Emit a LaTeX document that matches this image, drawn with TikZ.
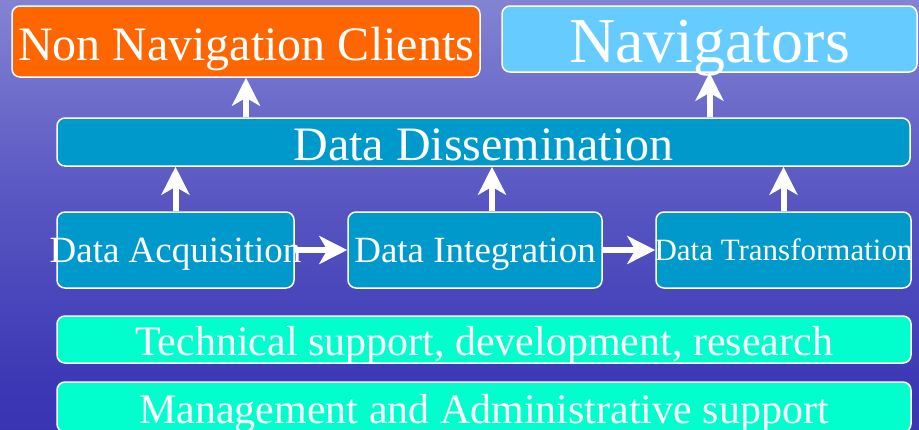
\documentclass[tikz,border=0pt]{standalone}
\usepackage{fontspec}
\setmainfont{Liberation Serif}
\usetikzlibrary{arrows.meta,calc}

\definecolor{clientorange}{RGB}{255,102,0}
\definecolor{navblue}{RGB}{102,204,255}
\definecolor{stageblue}{RGB}{0,153,204}
\definecolor{supportgreen}{RGB}{0,255,204}
\definecolor{bgtop}{RGB}{210,210,238}
\definecolor{bghigh}{RGB}{135,135,212}
\definecolor{bgmid}{RGB}{90,88,195}
\definecolor{bglow}{RGB}{60,55,180}
\definecolor{bgbot}{RGB}{45,40,168}
\pgfdeclareverticalshading{skyfade}{100bp}{color(0bp)=(bgbot); color(30bp)=(bglow); color(53bp)=(bgmid); color(77bp)=(bghigh); color(100bp)=(bgtop)}

\begin{document}
\begin{tikzpicture}[x=1pt, y=-1pt,
  box/.style={draw=white, line width=1.5pt, rounded corners=8pt, inner sep=0pt, text=white, text depth=0pt},
  stage/.style={box, fill=stageblue, minimum height=76pt, font=\fontsize{37}{40}\selectfont, text height=25.5pt},
  support/.style={box, fill=supportgreen, minimum width=854pt, font=\fontsize{42}{44}\selectfont},
  flow/.style={draw=white, line width=6pt, -{Stealth[length=28pt,width=28pt,inset=8pt]}}]
  % background
  \shade[shading=skyfade] (0,0) rectangle (919,429);
  \useasboundingbox (0,0) rectangle (919,429);

  % top row
  \node[box, fill=clientorange, minimum width=468pt, minimum height=71pt, font=\fontsize{48}{50}\selectfont, text height=37pt] (clients) at (246,41.5) {Non Navigation Clients};
  \node[box, fill=navblue, minimum width=415pt, minimum height=66pt, font=\fontsize{64}{66}\selectfont, text height=46pt] (navigators) at (709.5,39) {Navigators};
  \node[box, fill=stageblue, minimum width=853pt, minimum height=48pt, font=\fontsize{48}{50}\selectfont, text height=37pt] (dissem) at (483.5,142) {Data Dissemination};

  % stages
  \node[stage, minimum width=237pt] (acquis) at (175.5,250) {\makebox[0pt]{Data Acquisition}};
  \node[stage, minimum width=254pt] (integ) at (475,250) {\makebox[0pt]{Data Integration}};
  \node[stage, minimum width=255pt, font=\fontsize{31}{34}\selectfont, text height=21.5pt] (transf) at (783.5,250) {\makebox[0pt]{Data Transformation}};

  % support
  \node[support, minimum height=47pt, text height=31.8pt] (techsup) at (484,339.5) {Technical support, development, research};
  \node[support, minimum height=50pt, text height=33pt] (mgmt) at (484,407) {Management and Administrative support};

  \draw[flow] (acquis.east) -- (integ.west);
  \draw[flow] (integ.east) -- (transf.west);
  \draw[flow] (acquis.north) -- (acquis.north |- dissem.south);
  \draw[flow] ([xshift=17pt]integ.north) -- ([xshift=17pt]integ.north |- dissem.south);
  \draw[flow] (transf.north) -- (transf.north |- dissem.south);
  \draw[flow] (dissem.north -| clients.south) -- (clients.south);
  \draw[flow] (dissem.north -| navigators.south) -- (navigators.south);
\end{tikzpicture}
\end{document}
